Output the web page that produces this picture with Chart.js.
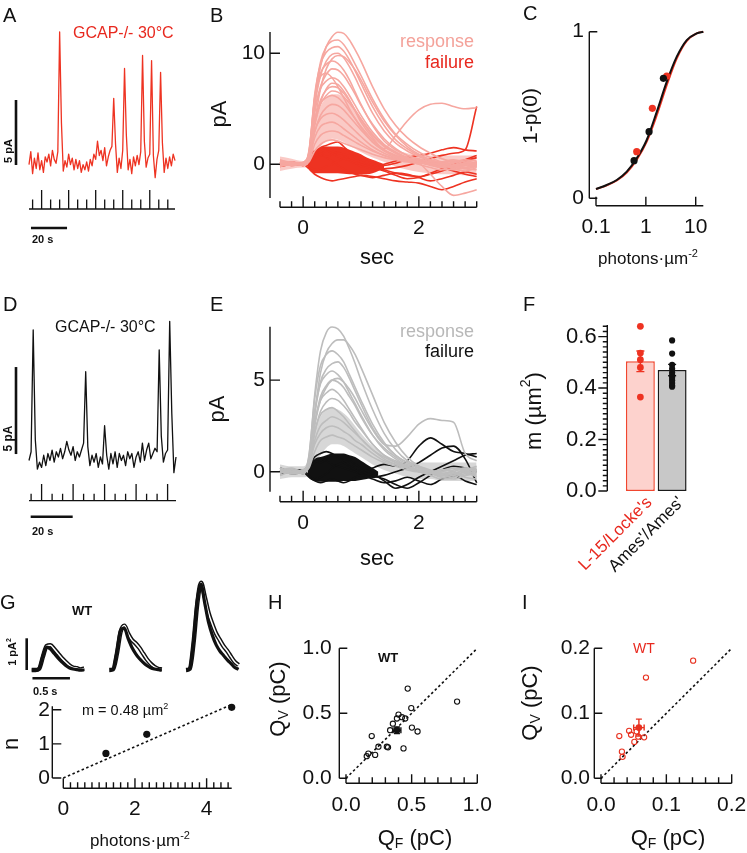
<!DOCTYPE html>
<html>
<head>
<meta charset="utf-8">
<title>GCAP-/- single photon responses</title>
<script src="https://cdn.jsdelivr.net/npm/chart.js@4.4.1/dist/chart.umd.min.js"></script>
<style>
  html, body { margin: 0; padding: 0; background: #fff; }
  #fig { position: relative; width: 747px; height: 853px; overflow: hidden; }
  #fig canvas { position: absolute; }
</style>
</head>
<body>
<div id="fig"></div>
<script>
// ---------------- data ----------------

// A: GCAP-/- rod at 30°C, red trace (pA, one sample per second)
const aTrace = [-0.2,0.8,-0.9,0.3,-0.5,0.7,-0.6,0.1,-0.8,0.4,
  0.0,0.6,-0.3,0.9,0.2,-0.1,0.8,10.0,3.0,-0.7,
  0.1,-0.4,0.6,-0.2,0.3,-0.6,0.2,-0.5,0.1,-0.8,
  -0.2,-0.6,0.0,-0.7,0.2,-0.3,0.6,0.2,1.6,0.5,
  0.9,0.1,1.1,-0.3,0.4,0.9,1.2,4.9,1.4,-0.8,
  0.3,-0.5,0.9,7.2,2.1,-0.6,0.2,-0.9,0.4,-0.3,
  0.5,-0.2,0.8,8.2,1.6,-0.4,0.3,0.6,7.8,0.5,
  -1.2,0.2,0.9,6.9,1.5,-0.8,0.3,-0.5,0.4,-0.3,
  0.6,0.1];
const aFlashes     = [2,7,12,17,22,27,32,37,42,47,52,57,62,67,72,77];
const aFlashBright = [0,1,0,0,1,0,0,1,0,0,1,0,0,1,0,0];

// D: same protocol, black trace
const dTrace = [-0.2,0.3,7.3,1.0,-0.7,-0.3,-0.6,0.1,-0.5,0.2,
  -0.2,0.4,-0.3,0.3,0.0,0.5,-0.1,0.3,0.9,0.4,
  0.1,0.6,-0.2,0.3,0.0,0.4,0.8,4.9,0.6,-0.5,
  0.1,-0.3,0.2,-0.6,0.0,-0.4,1.8,0.1,-0.7,0.2,
  -0.4,0.3,-0.6,0.2,-0.2,0.1,-0.5,0.3,-0.1,0.2,
  -0.6,0.0,0.3,-0.3,0.8,-0.2,0.4,0.8,-0.1,0.2,
  0.5,0.3,6.15,1.2,-0.3,0.2,0.4,7.8,2.5,-0.9,
  0.0];
const dFlashes     = [1,6,11,16,21,26,31,36,41,46,51,56,61,66];
const dFlashBright = [0,1,0,0,1,0,0,1,0,0,1,0,0,1];

// B / E: superimposed flash responses (sec, pA)
const traceTime = [-0.4,-0.2,0,0.1,0.2,0.3,0.4,0.5,0.6,0.7,0.8,0.9,1.0,1.2,1.4,1.6,1.8,2.0,2.2,2.4,2.6,2.8,3.0];

const bResponses = [
  [0.3,0.1,0,0.8,5.5,8.8,10.6,11.5,11.9,11.8,11.2,10.3,9.3,7.0,5.0,3.5,2.4,1.6,1.0,0.5,0.2,-0.1,0.0],
  [0.2,0.0,0.1,0.9,6.0,9.2,10.6,11.1,11.2,10.8,10.0,9.0,8.0,5.9,4.1,2.7,1.8,1.1,0.6,0.2,0.0,-0.3,-0.1],
  [0.1,0.2,0.0,1.0,6.3,9.0,10.1,10.5,10.6,10.2,9.4,8.4,7.3,5.2,3.5,2.2,1.4,0.8,0.4,0.1,-0.2,-0.1,0.2],
  [0.4,0.1,-0.1,0.7,5.2,8.0,9.3,9.9,10.0,9.6,8.8,7.8,6.7,4.6,3.0,1.9,1.2,0.7,0.3,0.0,-0.3,-0.4,-0.2],
  [-0.2,0.1,0.1,1.1,5.8,8.2,9.0,9.3,9.1,8.5,7.6,6.5,5.4,3.5,2.1,1.3,0.8,0.4,0.1,-0.1,-0.2,0.1,0.0],
  [0.2,0.0,0.0,0.6,4.6,7.0,8.1,8.6,8.5,8.0,7.2,6.3,5.3,3.6,2.3,1.4,0.8,0.5,0.2,0.0,-0.4,-0.6,-0.3],
  [0.0,-0.1,0.2,0.9,4.9,6.8,7.5,7.8,7.6,7.0,6.2,5.3,4.4,2.9,1.8,1.1,0.6,0.3,0.0,-0.2,0.1,0.3,0.1],
  [0.3,0.2,0.0,0.5,3.8,5.8,6.7,7.0,6.9,6.4,5.7,4.9,4.1,2.7,1.7,1.0,0.6,0.3,0.1,-0.1,-0.2,0.0,0.2],
  [-0.1,0.0,0.1,0.8,4.0,5.5,6.0,6.2,6.0,5.5,4.8,4.1,3.4,2.2,1.3,0.8,0.4,0.2,-0.1,-0.3,-0.2,-0.4,-0.5],
  [0.1,0.1,-0.1,0.4,2.9,4.4,5.1,5.4,5.3,4.9,4.3,3.7,3.1,2.0,1.3,0.8,0.5,0.2,0.1,0.0,0.2,0.4,0.3],
  [0.2,-0.1,0.0,0.6,3.0,4.1,4.5,4.6,4.4,4.0,3.5,3.0,2.5,1.6,1.0,0.6,0.3,0.1,-0.9,-2.0,-2.8,-2.6,-2.3],
  [0.0,0.2,0.1,0.5,2.4,3.4,3.7,3.8,3.6,3.2,2.8,2.4,2.0,1.3,0.8,0.5,0.3,0.2,0.0,0.1,0.3,0.0,-0.2],
  [-0.2,0.0,0.0,0.3,1.8,2.6,2.9,3.0,2.9,2.6,2.3,2.0,1.7,1.2,0.8,0.5,0.3,0.0,-0.3,-0.5,-0.4,-0.1,0.2],
  [0.1,0.0,0.1,0.7,3.5,5.6,6.8,7.3,7.2,6.6,5.8,4.8,3.8,2.4,1.4,2.6,3.9,4.9,5.4,5.5,5.2,5.0,5.1],
  [0.0,0.1,-0.1,0.2,1.2,1.8,2.1,2.2,2.1,1.9,1.7,1.5,1.3,0.9,0.6,0.4,0.2,0.1,0.0,-0.2,-0.1,0.1,0.0],
  [0.1,0.0,0.0,0.5,3.8,6.8,8.6,9.5,9.8,9.7,9.2,8.5,7.6,5.6,3.9,2.6,1.6,0.9,0.4,0.1,-0.1,0.0,0.1],
  [0.0,0.1,0.0,1.2,6.0,7.9,8.2,7.8,7.0,6.0,5.0,4.1,3.3,2.0,1.2,0.7,0.4,0.2,0.0,-0.3,-0.5,-0.3,0.0],
  [0.2,0.0,0.1,0.7,3.6,5.4,6.2,6.6,6.5,6.1,5.5,4.8,4.0,2.6,1.6,1.0,0.5,0.2,0.0,0.2,0.4,0.2,-0.1]
];
// dense bundle of the many smaller responses (upper / lower edge)
const bResponseHi = [0.7,0.5,0.3,1.0,3.5,5.2,6.0,6.3,6.3,6.0,5.4,4.7,4.0,2.7,1.8,1.3,1.0,0.9,0.8,0.8,0.8,0.8,0.8];
const bResponseLo = [-0.6,-0.4,-0.3,-0.3,0.6,1.6,2.1,2.3,2.2,2.0,1.7,1.4,1.1,0.6,0.2,-0.2,-0.5,-0.7,-0.8,-0.9,-0.9,-1.0,-1.0];

const bFailures = [
  [0.2,0.0,-0.1,0.3,1.0,1.5,1.7,1.9,2.0,1.6,1.1,0.6,0.2,-0.2,-0.5,-0.8,-1.0,-1.1,-0.9,-0.6,-0.2,0.3,0.6],
  [0.1,0.0,0.0,-0.4,-0.9,-1.2,-1.4,-1.5,-1.4,-1.3,-1.2,-1.1,-1.0,-1.1,-1.3,-1.5,-1.6,-1.7,-2.0,-2.3,-2.0,-1.6,-1.3],
  [-0.1,0.1,0.0,0.2,0.5,0.8,0.6,0.3,-0.1,-0.4,-0.7,-0.9,-1.0,-1.2,-1.0,-0.8,-0.9,-1.2,-1.5,-1.3,-1.0,-0.7,-0.9],
  [0.2,-0.1,0.1,0.6,1.2,1.0,0.7,0.9,1.1,0.8,0.4,0.1,-0.2,-0.3,0.0,0.3,0.6,0.8,1.0,1.3,1.5,1.3,1.2],
  [0.0,0.1,-0.1,0.3,0.7,0.9,1.2,1.0,0.7,0.5,0.3,0.1,0.0,-0.2,-0.4,-0.3,-0.1,0.2,0.5,0.8,1.0,1.3,5.2],
  [-0.2,0.0,0.1,-0.2,-0.5,-0.4,-0.2,0.0,0.3,0.5,0.4,0.2,0.0,-0.3,-0.6,-1.0,-1.3,-1.2,-0.8,-0.4,0.0,0.4,0.8],
  [0.1,0.2,0.0,0.4,0.9,1.3,1.4,1.2,1.0,0.9,0.8,0.6,0.4,0.1,-0.1,0.1,0.4,0.3,0.0,-0.3,-0.6,-0.9,-1.1]
];
const bFailTime = [0.08,0.12,0.2,0.3,0.4,0.5,0.6,0.7,0.8,0.9,1.0,1.1,1.2,1.3,1.4];
const bFailHi   = [0.0,0.6,1.2,1.5,1.6,1.6,1.6,1.5,1.3,1.1,0.9,0.6,0.4,0.2,0.0];
const bFailLo   = [-0.3,-0.6,-0.8,-0.8,-0.8,-0.8,-0.8,-0.85,-0.9,-0.9,-0.9,-0.9,-0.8,-0.6,-0.4];

const eResponses = [
  [0.2,0.0,0.1,0.8,4.2,6.6,7.6,7.9,7.8,7.4,6.7,5.9,5.0,3.4,2.1,1.2,0.6,0.3,0.1,-0.1,-0.2,0.0,0.1],
  [0.0,0.1,0.0,0.5,3.2,5.4,6.5,7.0,7.2,7.2,6.9,6.4,5.7,4.2,2.7,1.6,0.8,0.3,0.0,-0.2,0.1,0.2,0.0],
  [0.1,0.0,-0.1,0.6,3.1,4.9,5.6,5.9,6.0,5.7,5.1,4.4,3.7,2.4,1.5,0.9,0.5,0.2,0.0,-0.3,-0.4,-0.2,0.1],
  [-0.1,0.1,0.0,0.7,3.3,4.8,5.3,5.5,5.3,4.9,4.3,3.7,3.1,2.0,1.2,0.7,0.3,0.1,-0.1,0.0,0.2,0.1,-0.2],
  [0.2,0.0,0.1,0.4,2.6,4.1,4.7,5.0,4.9,4.6,4.1,3.6,3.0,2.0,1.3,0.8,0.4,0.2,0.0,-0.2,-0.1,0.1,0.3],
  [0.0,-0.1,0.0,0.6,2.7,3.9,4.3,4.5,4.3,3.9,3.4,2.9,2.4,1.5,0.9,0.5,0.2,0.0,-0.2,-0.4,-0.3,-0.1,0.0],
  [0.1,0.0,0.1,0.3,2.1,3.3,3.8,4.0,3.9,3.6,3.2,2.7,2.3,1.5,0.9,0.6,0.3,0.1,0.0,0.1,0.2,0.0,-0.3],
  [-0.2,0.0,0.0,0.5,2.2,3.1,3.4,3.5,3.3,3.0,2.6,2.2,1.8,1.2,0.7,0.4,0.2,0.0,-0.1,-0.3,-0.2,0.0,0.1],
  [0.1,0.1,-0.1,0.3,1.7,2.5,2.8,3.0,2.9,2.7,2.4,2.1,1.8,1.2,0.8,0.5,0.3,0.1,0.0,0.0,-0.1,-0.2,-0.1],
  [0.0,0.0,0.1,0.4,1.5,2.1,2.4,2.5,2.4,2.2,2.0,1.7,1.5,1.0,0.6,0.4,0.2,0.0,-0.1,0.1,0.0,-0.3,-0.4],
  [0.1,0.0,0.0,0.5,2.5,3.9,4.6,5.0,5.1,4.9,4.5,4.0,3.4,2.3,1.5,1.4,1.9,2.6,2.9,2.8,2.7,1.0,0.6],
  [0.1,0.2,0.0,0.9,4.0,5.8,6.4,6.6,6.4,6.0,5.3,4.6,3.9,2.6,1.6,0.9,0.5,0.2,0.0,-0.1,0.0,0.2,0.1],
  [0.0,-0.1,0.0,0.2,1.1,1.7,1.9,2.0,1.9,1.8,1.6,1.4,1.2,0.8,0.5,0.3,0.1,0.0,0.0,-0.2,-0.1,0.1,0.2]
];
const eResponseHi = [0.4,0.3,0.3,0.7,2.2,3.0,3.4,3.5,3.4,3.2,2.9,2.5,2.1,1.4,0.9,0.6,0.5,0.5,0.5,0.5,0.5,0.5,0.5];
const eResponseLo = [-0.4,-0.3,-0.3,-0.2,0.3,0.9,1.3,1.5,1.5,1.4,1.2,1.0,0.8,0.4,0.1,-0.1,-0.3,-0.4,-0.4,-0.5,-0.5,-0.5,-0.5];

const eFailures = [
  [0.2,0.0,0.0,0.3,0.8,1.0,1.1,1.0,0.8,0.6,0.4,0.2,0.0,-0.2,-0.4,-0.7,-0.9,-0.6,-0.2,0.1,0.3,0.2,0.0],
  [0.0,0.1,-0.1,0.2,0.5,0.7,0.6,0.4,0.3,0.2,0.1,0.0,-0.1,0.2,0.4,0.3,0.6,1.4,1.85,1.5,1.1,1.0,0.8],
  [-0.1,0.0,0.1,-0.2,-0.4,-0.3,-0.1,0.2,0.4,0.5,0.6,0.4,0.2,-0.1,-0.5,-0.9,-0.7,-0.3,0.0,0.3,0.6,0.9,1.0],
  [0.1,-0.1,0.0,0.4,0.6,0.5,0.7,0.9,0.8,0.5,0.3,0.1,-0.1,-0.3,-0.2,0.0,0.2,0.5,0.9,1.3,1.4,0.7,-0.6],
  [0.0,0.1,0.0,-0.3,-0.5,-0.6,-0.5,-0.4,-0.5,-0.6,-0.5,-0.3,-0.2,-0.4,-0.6,-0.5,-0.3,-0.5,-0.7,-0.4,-0.2,-0.5,-0.7]
];
const eFailTime = [0.08,0.12,0.2,0.3,0.4,0.5,0.6,0.7,0.8,0.9,1.0,1.1,1.2,1.3];
const eFailHi   = [0.0,0.4,0.7,0.8,0.9,1.0,1.0,1.0,0.9,0.8,0.6,0.4,0.2,0.0];
const eFailLo   = [-0.2,-0.4,-0.5,-0.55,-0.55,-0.55,-0.55,-0.5,-0.5,-0.5,-0.45,-0.4,-0.3,-0.2];

// C: 1-p(0) vs flash strength
const cFlash    = [0.1,0.164,0.261,0.414,0.656,1.04,1.66,2.63,4.17,6.62,10.5,14.2];
const cFitBlack = [0.056,0.08,0.11,0.16,0.24,0.35,0.52,0.70,0.85,0.95,0.99,1.0];
const cFitRed   = [0.055,0.078,0.107,0.155,0.232,0.34,0.50,0.68,0.84,0.945,0.99,1.0];
const cBlackX = [0.58,1.16,2.25], cBlackY = [0.226,0.40,0.72];
const cRedX   = [0.656,1.35,2.63], cRedY  = [0.28,0.54,0.734];

// F: collecting area per solution pair
const fCats   = ["L-15/Locke's", "Ames'/Ames'"];
const fMeans  = [0.504, 0.47];
const fSems   = [0.04, 0.022];
const fRedPts   = [0.64,0.536,0.51,0.48,0.365];
const fBlackPts = [0.585,0.534,0.49,0.475,0.46,0.45,0.44,0.43,0.42,0.41,0.405];

// G: WT variance traces (pA^2) and n vs flash strength
const gTime    = [0,0.05,0.1,0.15,0.2,0.25,0.3,0.35,0.4,0.45,0.5,0.55,0.6,0.65,0.7];
const gOffsets = [0, 1.035, 2.058];
const gThick = [
  [0,0,0.05,0.45,0.72,0.66,0.52,0.38,0.26,0.15,0.07,0.03,0.01,0,0],
  [0,0.02,0.55,1.25,1.32,1.0,0.72,0.52,0.36,0.24,0.14,0.07,0.03,0.01,0],
  [0,0.05,0.9,2.2,2.7,2.1,1.5,1.1,0.8,0.6,0.46,0.32,0.2,0.08,0.02]
];
const gOutline = [
  [0,0,0.04,0.42,0.76,0.78,0.66,0.52,0.38,0.26,0.15,0.08,0.06,0.02,0.05],
  [0,0.02,0.5,1.2,1.4,1.15,0.95,0.84,0.7,0.52,0.34,0.2,0.1,0.04,0.02],
  [0,0.04,0.85,2.1,2.75,2.3,1.8,1.45,1.15,0.95,0.75,0.6,0.42,0.25,0.16]
];
const gFlux = [1.19, 2.33, 4.70];
const gN    = [0.72, 1.28, 2.07];
const gFitX = [0, 4.7], gFitY = [0, 2.15];

// H: WT QV vs QF (pC)
const hQF = [0.47,0.846,0.497,0.40,0.426,0.451,0.388,0.502,0.545,0.357,0.336,0.196,0.247,0.311,0.32,0.438,0.17,0.222,0.158];
const hQV = [0.69,0.59,0.54,0.49,0.47,0.46,0.46,0.39,0.36,0.42,0.37,0.325,0.243,0.243,0.238,0.23,0.19,0.18,0.17];
const hMean = { x: 0.388, y: 0.37, ex: 0.03, ey: 0.025 };

// I: WT QV vs QF (pC), red
const iQF = [0.141,0.0688,0.028,0.043,0.046,0.051,0.057,0.066,0.032,0.033,0.0546];
const iQV = [0.181,0.155,0.065,0.073,0.067,0.056,0.064,0.063,0.041,0.033,0.072];
const iMean = { x: 0.058, y: 0.078, ex: 0.008, ey: 0.013 };

// tick values
const bYTicks = [0, 10], eYTicks = [0, 5], secTicks = [0, 2];
const cXTicks = [0.1, 1, 10], cYTicks = [0, 1];
const fYTicks = [0, 0.2, 0.4, 0.6];
const gXTicks = [0, 2, 4], gYTicks = [0, 1, 2];
const hTicks = [0, 0.5, 1.0], iTicks = [0, 0.1, 0.2];

// ---------------- drawing ----------------
const FONT = '"Liberation Sans", Arial, Helvetica, sans-serif';
const INK = "#111111", RED = "#ee3322", RED_TXT = "#e8281e";
const PINK = "#f6a7a0", GREY = "#bdbdbd";
const PINK_BAND = "rgba(246,167,160,0.6)", GREY_BAND = "rgba(189,189,189,0.6)";
Chart.defaults.font.family = FONT;

const fig = document.getElementById("fig");
const specs = new Map();

function drawText(ctx, t) {
  const segs = (Array.isArray(t.t) ? t.t : [t.t]).map(s =>
    typeof s === "string" ? { s, k: 0 } : s.sup != null ? { s: s.sup, k: 1 } : { s: s.sub, k: -1 });
  const font = k => `${t.bold ? "bold " : ""}${k ? Math.round(t.size * 0.62) : t.size}px ${FONT}`;
  let w = 0;
  for (const g of segs) { ctx.font = font(g.k); g.w = ctx.measureText(g.s).width; w += g.w; }
  ctx.save();
  ctx.translate(t.x, t.y);
  if (t.rot) ctx.rotate(t.rot * Math.PI / 180);
  ctx.fillStyle = t.color || INK;
  ctx.textAlign = "left";
  ctx.textBaseline = t.base || "alphabetic";
  let x = t.align === "center" ? -w / 2 : t.align === "right" ? -w : 0;
  for (const g of segs) {
    ctx.font = font(g.k);
    ctx.fillText(g.s, x, g.k === 1 ? -t.size * 0.4 : g.k === -1 ? t.size * 0.22 : 0);
    x += g.w;
  }
  ctx.restore();
}

// Igor-style axis: offset line, inward/outward ticks, labels
function drawAxis(chart, ctx, a, box) {
  const s = chart.scales[a.scale], hz = s.isHorizontal(), ca = chart.chartArea;
  const off = hz ? box[0] : box[1];
  const P = v => s.getPixelForValue(v) + off;
  ctx.strokeStyle = INK; ctx.lineWidth = 1.4;
  ctx.beginPath();
  if (!a.noLine) {
    const p0 = (hz ? ca.left : ca.top) + off, p1 = (hz ? ca.right : ca.bottom) + off;
    if (hz) { ctx.moveTo(p0, a.at); ctx.lineTo(p1, a.at); } else { ctx.moveTo(a.at, p0); ctx.lineTo(a.at, p1); }
  }
  const tick = (v, len) => {
    const p = P(v);
    if (hz) { ctx.moveTo(p, a.at); ctx.lineTo(p, a.at + a.dir * len); }
    else { ctx.moveTo(a.at, p); ctx.lineTo(a.at + a.dir * len, p); }
  };
  (a.minor || []).forEach(v => tick(v, a.minorLen));
  (a.major || []).forEach(v => tick(v, a.majorLen));
  ctx.stroke();
  (a.labels || []).forEach((txt, i) => {
    const p = P(a.major[i]);
    if (a.rot) drawText(ctx, { t: txt, x: p + a.dx, y: a.labelAt, size: a.size, rot: a.rot, align: "right", base: "middle", color: a.colors[i] });
    else if (hz) drawText(ctx, { t: txt, x: p, y: a.labelAt, size: a.size, align: "center", base: "middle" });
    else drawText(ctx, { t: txt, x: a.labelAt, y: p, size: a.size, align: "right", base: "middle" });
  });
}

function drawErr(chart, ctx, e, box) {
  const xs = chart.scales.x, ys = chart.scales.y;
  const X = v => xs.getPixelForValue(v) + box[0], Y = v => ys.getPixelForValue(v) + box[1];
  const x = X(e.x), y = Y(e.y), c = e.cap;
  ctx.strokeStyle = e.color; ctx.lineWidth = 1.4;
  ctx.beginPath();
  if (e.ey) {
    const y0 = Y(e.y - e.ey), y1 = Y(e.y + e.ey);
    ctx.moveTo(x, y0); ctx.lineTo(x, y1);
    ctx.moveTo(x - c, y0); ctx.lineTo(x + c, y0); ctx.moveTo(x - c, y1); ctx.lineTo(x + c, y1);
  }
  if (e.ex) {
    const x0 = X(e.x - e.ex), x1 = X(e.x + e.ex);
    ctx.moveTo(x0, y); ctx.lineTo(x1, y);
    ctx.moveTo(x0, y - c); ctx.lineTo(x0, y + c); ctx.moveTo(x1, y - c); ctx.lineTo(x1, y + c);
  }
  ctx.stroke();
}

function drawScaleBar(chart, ctx, b, box) {
  const s = chart.scales[b.scale], hz = s.isHorizontal(), off = hz ? box[0] : box[1];
  const p0 = s.getPixelForValue(b.from) + off, p1 = s.getPixelForValue(b.from + b.len) + off;
  ctx.strokeStyle = INK; ctx.lineWidth = 2.6;
  ctx.beginPath();
  if (hz) { ctx.moveTo(p0, b.at); ctx.lineTo(p1, b.at); } else { ctx.moveTo(b.at, p0); ctx.lineTo(b.at, p1); }
  ctx.stroke();
}

Chart.register({
  id: "figure",
  beforeDatasetsDraw(chart) {
    const s = specs.get(chart.canvas); if (!s) return;
    const ctx = chart.ctx; ctx.save(); ctx.translate(-s.box[0], -s.box[1]);
    (s.axes || []).forEach(a => drawAxis(chart, ctx, a, s.box));
    ctx.restore();
  },
  afterDatasetsDraw(chart) {
    const s = specs.get(chart.canvas); if (!s) return;
    const ctx = chart.ctx; ctx.save(); ctx.translate(-s.box[0], -s.box[1]);
    (s.errs || []).forEach(e => drawErr(chart, ctx, e, s.box));
    (s.bars || []).forEach(b => drawScaleBar(chart, ctx, b, s.box));
    (s.texts || []).forEach(t => drawText(ctx, t));
    ctx.restore();
  }
});

const lin = (min, max, extra) => Object.assign({ type: "linear", min, max }, extra);
const steps = (a, b, d) => Array.from({ length: Math.round((b - a) / d) + 1 }, (_, i) => +(a + i * d).toFixed(4));
const smooth = { cubicInterpolationMode: "monotone" };

function line(xs, ys, color, w, more) {
  return Object.assign({
    data: xs.map((x, i) => ({ x, y: ys[i] })), borderColor: color, borderWidth: w,
    pointRadius: 0, fill: false, clip: false, spanGaps: false, borderJoinStyle: "round"
  }, more);
}
function dots(points, color, r, open) {
  return {
    type: "line", data: points, showLine: false, clip: false,
    pointRadius: r, pointBorderWidth: open ? 1.1 : 0, pointStyle: "circle",
    pointBackgroundColor: open ? "rgba(0,0,0,0)" : color, pointBorderColor: color
  };
}
const xy = (xs, ys) => xs.map((x, i) => ({ x, y: ys[i] }));
// band between two edges: lower edge then upper edge filled down to it
function band(xs, lo, hi, color) {
  return [line(xs, lo, "rgba(0,0,0,0)", 0, smooth),
          line(xs, hi, "rgba(0,0,0,0)", 0, Object.assign({ fill: "-1", backgroundColor: color }, smooth))];
}
function stim(times, bright, hi, lo) {
  const pts = [];
  times.forEach((t, i) => pts.push({ x: t, y: 0 }, { x: t, y: bright[i] ? hi : lo }, { x: t, y: null }));
  return { data: pts, borderColor: INK, borderWidth: 1.3, pointRadius: 0, yAxisID: "ys", clip: false, spanGaps: false };
}
// datasets listed bottom first; lower order draws on top in Chart.js
function stack(ds, labels) {
  ds.forEach((d, i) => { d.order = ds.length - i; });
  return labels ? { labels, datasets: ds } : { datasets: ds };
}

function makePanel(box, area, type, data, scales, extra) {
  const cv = document.createElement("canvas");
  cv.width = box[2]; cv.height = box[3];
  Object.assign(cv.style, { left: box[0] + "px", top: box[1] + "px", width: box[2] + "px", height: box[3] + "px" });
  fig.appendChild(cv);
  specs.set(cv, Object.assign({ box }, extra));
  for (const k in scales) scales[k].display = false;
  return new Chart(cv, {
    type, data,
    options: {
      responsive: false, animation: false, devicePixelRatio: 1, events: [],
      layout: { padding: { left: area[0] - box[0], top: area[1] - box[1], right: box[0] + box[2] - area[2], bottom: box[1] + box[3] - area[3] } },
      scales,
      plugins: { legend: { display: false }, tooltip: { enabled: false } }
    }
  });
}

// ---- A ----
makePanel([0, 0, 240, 262], [29, 25, 175, 215], "line",
  stack([
    line(aTrace.map((_, i) => i), aTrace, RED, 1.3),
    line([0, 81], [0, 0], INK, 1.3, { yAxisID: "ys" }),
    stim(aFlashes, aFlashBright, 1, 0.5)
  ]),
  { x: lin(0, 81), y: lin(-4.077, 10.538), ys: lin(-0.316, 9.684, { axis: "y" }) },
  {
    bars: [{ scale: "y", from: -0.23, len: 5, at: 16 }, { scale: "x", from: 1.1, len: 20, at: 228 }],
    texts: [
      { t: "A", x: 3, y: 22, size: 20 },
      { t: "GCAP-/- 30°C", x: 73, y: 38, size: 16, color: RED_TXT },
      { t: "5 pA", x: 8.5, y: 151, size: 11, bold: true, rot: -90, align: "center", base: "middle" },
      { t: "20 s", x: 32, y: 243, size: 11, bold: true }
    ]
  });

// ---- D ----
makePanel([0, 283, 240, 262], [29, 315, 176, 505], "line",
  stack([
    line(dTrace.map((_, i) => i), dTrace, INK, 1.3),
    line([0, 70], [0, 0], INK, 1.3, { yAxisID: "ys" }),
    stim(dFlashes, dFlashBright, 1, 0.42)
  ]),
  { x: lin(0, 70), y: lin(-2.759, 8.161), ys: lin(-0.257, 11.12, { axis: "y" }) },
  {
    bars: [{ scale: "y", from: 0.17, len: 5, at: 16 }, { scale: "x", from: 0.8, len: 20, at: 516.7 }],
    texts: [
      { t: "D", x: 3, y: 311, size: 20 },
      { t: "GCAP-/- 30°C", x: 55, y: 332, size: 16 },
      { t: "5 pA", x: 8.5, y: 438.5, size: 12, bold: true, rot: -90, align: "center", base: "middle" },
      { t: "20 s", x: 32, y: 535, size: 11, bold: true }
    ]
  });

// ---- B / E ----
function tracePanel(box, area, yRange, resp, respHi, respLo, fails, failT, failHi, failLo, respColor, bandColor, failColor, yTicks, xAxisAt, extraTexts) {
  const ds = [
    ...band(traceTime, respLo, respHi, bandColor),
    ...band(failT, failLo, failHi, failColor),
    ...fails.map(f => line(traceTime, f, failColor, 1.6, smooth)),
    ...resp.map(r => line(traceTime, r, respColor, 1.6, smooth))
  ];
  makePanel(box, area, "line", stack(ds),
    { x: lin(-0.4, 3.0), y: lin(yRange[0], yRange[1]) },
    {
      axes: [
        { scale: "y", at: 270, dir: 1, major: yTicks, majorLen: 10, labels: yTicks.map(String), labelAt: 265, size: 21 },
        { scale: "x", at: xAxisAt, dir: -1, minor: steps(-0.4, 3.0, 0.2), minorLen: 6, major: secTicks, majorLen: 11,
          labels: secTicks.map(String), labelAt: xAxisAt + 21.3, size: 21 }
      ],
      texts: extraTexts
    });
}

tracePanel([200, 0, 290, 275], [280, 32, 476.7, 198], [-3.04, 11.92],
  bResponses, bResponseHi, bResponseLo, bFailures, bFailTime, bFailHi, bFailLo, PINK, PINK_BAND, RED, bYTicks, 207.3, [
    { t: "B", x: 210, y: 22, size: 20 },
    { t: "pA", x: 220, y: 114, size: 22, rot: -90, align: "center", base: "middle" },
    { t: "sec", x: 377, y: 258, size: 22, align: "center", base: "middle" },
    { t: "response", x: 474, y: 47, size: 18, align: "right", color: "#f4a29a" },
    { t: "failure", x: 474, y: 68, size: 18, align: "right", color: RED_TXT }
  ]);

tracePanel([200, 283, 290, 292], [280, 326.7, 476.7, 491.7], [-1.09, 7.92],
  eResponses, eResponseHi, eResponseLo, eFailures, eFailTime, eFailHi, eFailLo, GREY, GREY_BAND, INK, eYTicks, 501.7, [
    { t: "E", x: 210, y: 311, size: 20 },
    { t: "pA", x: 218, y: 409, size: 22, rot: -90, align: "center", base: "middle" },
    { t: "sec", x: 377, y: 559, size: 22, align: "center", base: "middle" },
    { t: "response", x: 474, y: 337, size: 18, align: "right", color: "#b8b8b8" },
    { t: "failure", x: 474, y: 357, size: 18, align: "right" }
  ]);

// ---- C ----
makePanel([500, 0, 247, 275], [596, 31.7, 703.3, 198.3], "line",
  stack([
    line(cFlash, cFitRed, RED, 2, smooth),
    line(cFlash, cFitBlack, INK, 2, smooth),
    dots(xy(cRedX, cRedY), RED, 3.6),
    dots(xy(cBlackX, cBlackY), INK, 3.6)
  ]),
  { x: { type: "logarithmic", min: 0.1, max: 14.2 }, y: lin(0, 1) },
  {
    axes: [
      { scale: "y", at: 589.3, dir: 1, major: cYTicks, majorLen: 8, labels: cYTicks.map(String), labelAt: 584, size: 21 },
      { scale: "x", at: 205.7, dir: -1, major: cXTicks, majorLen: 9, labels: cXTicks.map(String), labelAt: 227.5, size: 21 }
    ],
    texts: [
      { t: "C", x: 523, y: 20, size: 20 },
      { t: "1-p(0)", x: 531.7, y: 116, size: 21, rot: -90, align: "center", base: "middle" },
      { t: ["photons·µm", { sup: "-2" }], x: 648, y: 264, size: 17, align: "center" }
    ]
  });

// ---- F ----
makePanel([500, 283, 247, 300], [624.5, 325, 688, 491], "bar",
  stack([
    { type: "bar", data: fMeans, backgroundColor: ["#fdd2cd", "#c8c8c8"], borderColor: ["#f0462f", "#1a1a1a"],
      borderWidth: 1.5, borderSkipped: false, barPercentage: 0.91, categoryPercentage: 1 },
    dots(fRedPts.map(v => ({ x: fCats[0], y: v })), RED, 3.4),
    dots(fBlackPts.map(v => ({ x: fCats[1], y: v })), INK, 3.1)
  ], fCats),
  { x: { type: "category", offset: true }, y: lin(0, 0.645) },
  {
    axes: [
      { scale: "y", at: 607.3, dir: -1, minor: steps(0, 0.64, 0.02), minorLen: 4.5, major: fYTicks, majorLen: 9,
        labels: fYTicks.map(v => v.toFixed(1)), labelAt: 596.7, size: 22 },
      { scale: "x", noLine: true, major: [0, 1], majorLen: 0, labels: fCats, rot: -45, dx: 9, labelAt: 500,
        colors: [RED_TXT, INK], size: 17 }
    ],
    errs: fMeans.map((m, i) => ({ x: i, y: m, ey: fSems[i], cap: 4, color: i ? INK : RED })),
    texts: [
      { t: "F", x: 523, y: 311, size: 20 },
      { t: ["m (µm", { sup: "2" }, ")"], x: 535, y: 411, size: 22, rot: -90, align: "center", base: "middle" }
    ]
  });

// ---- G (traces) ----
const gDs = [];
gThick.forEach((th, k) => {
  const xs = gTime.map(t => t + gOffsets[k]);
  gDs.push(line(xs, gOutline[k], INK, 4.4, smooth));
  gDs.push(line(xs, gOutline[k], "#ffffff", 1.5, smooth));
  gDs.push(line(xs, th, INK, 3.2, smooth));
});
makePanel([0, 575, 250, 122], [31.7, 578, 245, 672], "line", stack(gDs),
  { x: lin(0, 2.844), y: lin(-0.063, 2.902) },
  {
    bars: [{ scale: "y", from: 0, len: 1, at: 26.7 }, { scale: "x", from: 0.01, len: 0.5, at: 678.3 }],
    texts: [
      { t: "G", x: 0, y: 609, size: 20 },
      { t: "WT", x: 72, y: 615, size: 13, bold: true },
      { t: ["1 pA", { sup: "2" }], x: 13, y: 652, size: 11, bold: true, rot: -90, align: "center", base: "middle" },
      { t: "0.5 s", x: 33, y: 695, size: 11, bold: true }
    ]
  });

// ---- G (n vs flash) ----
makePanel([0, 697, 250, 156], [63.3, 706.3, 231.7, 778], "line",
  stack([
    line(gFitX, gFitY, INK, 1.6, { borderDash: [2.5, 2.5] }),
    dots(xy(gFlux, gN), INK, 3.6)
  ]),
  { x: lin(0, 4.7), y: lin(0, 2.1) },
  {
    axes: [
      { scale: "y", at: 52.3, dir: 1, major: gYTicks, majorLen: 9, labels: gYTicks.map(String), labelAt: 50, size: 21 },
      { scale: "x", at: 788.3, dir: -1, minor: steps(0, 4.6, 0.2), minorLen: 6, major: gXTicks, majorLen: 10,
        labels: gXTicks.map(String), labelAt: 809.5, size: 21 }
    ],
    texts: [
      { t: "n", x: 11.5, y: 744, size: 22, rot: -90, align: "center", base: "middle" },
      { t: ["m = 0.48 µm", { sup: "2" }], x: 82, y: 715, size: 14.5 },
      { t: ["photons·µm", { sup: "-2" }], x: 140, y: 846, size: 17, align: "center" }
    ]
  });

// ---- H / I ----
function chargePanel(box, area, max, qf, qv, mean, color, ticks, minor, yAxisAt, yLabelAt, texts) {
  makePanel(box, area, "line",
    stack([
      line([0, max], [0, max], INK, 1.6, { borderDash: [2.5, 2.5] }),
      dots(xy(qf, qv), color, 2.6, true),
      dots([{ x: mean.x, y: mean.y }], color, 3.4)
    ]),
    { x: lin(0, max), y: lin(0, max) },
    {
      axes: [
        { scale: "y", at: yAxisAt, dir: 1, major: ticks, majorLen: 8, labels: ticks.map(v => v.toFixed(1)), labelAt: yLabelAt, size: 21 },
        { scale: "x", at: 783.3, dir: -1, minor, minorLen: 6, major: ticks, majorLen: 9,
          labels: ticks.map(v => v.toFixed(1)), labelAt: 805, size: 21 }
      ],
      errs: [{ x: mean.x, y: mean.y, ex: mean.ex, ey: mean.ey, cap: 3, color }],
      texts
    });
}

chargePanel([250, 583, 245, 270], [346, 648.3, 477.3, 778.3], 1.0, hQF, hQV, hMean, INK, hTicks, steps(0, 1, 0.1), 339.3, 331.7, [
  { t: "H", x: 268, y: 609, size: 20 },
  { t: "WT", x: 378, y: 662, size: 13, bold: true },
  { t: ["Q", { sub: "V" }, " (pC)"], x: 279, y: 699, size: 22, rot: -90, align: "center", base: "middle" },
  { t: ["Q", { sub: "F" }, " (pC)"], x: 415, y: 839, size: 22, align: "center", base: "middle" }
]);

chargePanel([495, 583, 252, 270], [601, 648.3, 731.7, 778.3], 0.2, iQF, iQV, iMean, "#e8311f", iTicks, steps(0, 0.2, 0.02), 594.3, 590, [
  { t: "I", x: 522, y: 609, size: 20 },
  { t: "WT", x: 633, y: 653, size: 14, color: RED_TXT },
  { t: ["Q", { sub: "V" }, " (pC)"], x: 531, y: 703, size: 22, rot: -90, align: "center", base: "middle" },
  { t: ["Q", { sub: "F" }, " (pC)"], x: 668, y: 839, size: 22, align: "center", base: "middle" }
]);
</script>
</body>
</html>
